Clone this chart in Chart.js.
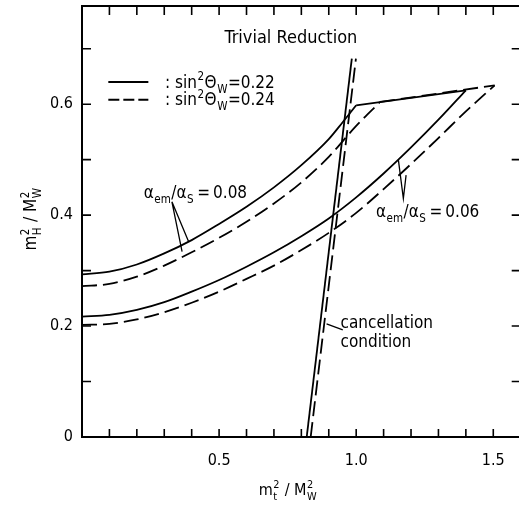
<!DOCTYPE html>
<html>
<head>
<meta charset="utf-8">
<script src="https://cdn.jsdelivr.net/npm/chart.js@4.4.1/dist/chart.umd.min.js"></script>
<style>
html, body { margin: 0; padding: 0; background: #fff; overflow: hidden; }
#wrap { width: 522px; height: 506px; }
</style>
</head>
<body>
<div id="wrap"><canvas id="chart" width="522" height="506"></canvas></div>
<script>
const FONT = '"DejaVu Sans Condensed", "DejaVu Sans", sans-serif';

// tick labels
const xTickLabels = [0.5, 1.0, 1.5];
const yTickLabels = [0, 0.2, 0.4, 0.6];

// alpha_em/alpha_s = 0.08, sin^2 = 0.22 (solid)
const xUpperSolid = [0, 0.1, 0.2, 0.3, 0.4, 0.5, 0.6, 0.7, 0.8, 0.9, 0.95, 1.0];
const yUpperSolid = [0.293, 0.298, 0.311, 0.331, 0.355, 0.384, 0.415, 0.450, 0.490, 0.537, 0.567, 0.598];
// alpha_em/alpha_s = 0.08, sin^2 = 0.24 (dashed)
const xUpperDashed = [0, 0.1, 0.2, 0.3, 0.4, 0.5, 0.6, 0.7, 0.8, 0.9, 1.0, 1.087];
const yUpperDashed = [0.272, 0.276, 0.289, 0.309, 0.333, 0.359, 0.388, 0.421, 0.459, 0.505, 0.561, 0.604];
// straight upper branch
const xBranchSolid = [1.0, 1.4];
const yBranchSolid = [0.598, 0.625];
const xBranchDashed = [1.087, 1.505];
const yBranchDashed = [0.604, 0.634];
// alpha_em/alpha_s = 0.06
const xLowerSolid = [0, 0.1, 0.2, 0.3, 0.4, 0.5, 0.6, 0.7, 0.8, 0.9, 1.0, 1.1, 1.2, 1.3, 1.4];
const yLowerSolid = [0.217, 0.220, 0.229, 0.243, 0.262, 0.283, 0.307, 0.333, 0.362, 0.394, 0.432, 0.475, 0.522, 0.572, 0.625];
const xLowerDashed = [0, 0.1, 0.2, 0.3, 0.4, 0.5, 0.6, 0.7, 0.8, 0.9, 1.0, 1.1, 1.2, 1.3, 1.4, 1.505];
const yLowerDashed = [0.202, 0.204, 0.212, 0.225, 0.242, 0.262, 0.285, 0.309, 0.337, 0.368, 0.404, 0.447, 0.492, 0.539, 0.587, 0.634];
// cancellation condition
const xCancelSolid = [0.8195, 0.984];
const xCancelDashed = [0.834, 0.999];
const yCancel = [0, 0.682];

function pts(xs, ys) {
    return xs.map(function (x, i) { return { x: x, y: ys[i] }; });
}

function line(xs, ys, dash, curved) {
    return {
        data: pts(xs, ys),
        borderColor: '#000',
        borderWidth: 1.8,
        borderDash: dash ? [15, 6] : [],
        pointRadius: 0,
        fill: false,
        cubicInterpolationMode: curved ? 'monotone' : 'default',
        tension: 0
    };
}

function near(v, list) {
    return list.some(function (l) { return Math.abs(v - l) < 1e-6; });
}

// text with stacked super/subscripts
function richText(ctx, x, y, parts, size, align) {
    const small = size * 0.68;
    const big = size + 'px ' + FONT;
    const sm = small + 'px ' + FONT;
    let w = 0;
    parts.forEach(function (p) {
        if (typeof p === 'string') { ctx.font = big; w += ctx.measureText(p).width; }
        else { ctx.font = sm; w += Math.max(ctx.measureText(p.sup || '').width, ctx.measureText(p.sub || '').width) + 1; }
    });
    let cx = align === 'center' ? x - w / 2 : x;
    ctx.textBaseline = 'alphabetic';
    ctx.textAlign = 'left';
    parts.forEach(function (p) {
        if (typeof p === 'string') {
            ctx.font = big; ctx.fillText(p, cx, y); cx += ctx.measureText(p).width;
        } else {
            ctx.font = sm;
            if (p.sup) ctx.fillText(p.sup, cx + 0.5, y - size * 0.42);
            if (p.sub) ctx.fillText(p.sub, cx + 0.5, y + size * 0.3);
            cx += Math.max(ctx.measureText(p.sup || '').width, ctx.measureText(p.sub || '').width) + 1;
        }
    });
}

const notes = {
    title: [0.762, 0.710],
    legend1: { seg: [0.096, 0.242, 0.640], text: [0.303, 0.630] },
    legend2: { seg: [0.096, 0.242, 0.608], text: [0.303, 0.599] },
    label08: [0.225, 0.431],
    arrow08: [[0.328, 0.424], [0.389, 0.352], [0.365, 0.334]],
    label06: [1.072, 0.396],
    arrow06: [[1.172, 0.430], [1.154, 0.499], [1.182, 0.472]],
    cancel: [0.943, 0.196, 0.163],
    arrowCancel: [[0.892, 0.204], [0.951, 0.193]]
};

const framePlugin = {
    id: 'frame',
    afterDraw: function (chart) {
        const ctx = chart.ctx, a = chart.chartArea, xs = chart.scales.x, ys = chart.scales.y;
        const px = function (v) { return xs.getPixelForValue(v); };
        const py = function (v) { return ys.getPixelForValue(v); };
        ctx.save();
        ctx.strokeStyle = '#000';
        ctx.fillStyle = '#000';
        ctx.lineWidth = 2;
        ctx.strokeRect(a.left, a.top, a.right - a.left, a.bottom - a.top);
        // inward ticks on all four sides
        ctx.lineWidth = 1.6;
        ctx.beginPath();
        xs.ticks.forEach(function (t) {
            const X = px(t.value);
            if (t.value <= 0) return;
            ctx.moveTo(X, a.bottom); ctx.lineTo(X, a.bottom - 8);
            ctx.moveTo(X, a.top); ctx.lineTo(X, a.top + 9);
        });
        ys.ticks.forEach(function (t) {
            const Y = py(t.value);
            if (t.value <= 0) return;
            ctx.moveTo(a.left, Y); ctx.lineTo(a.left + 9, Y);
            ctx.moveTo(a.right, Y); ctx.lineTo(a.right - 9, Y);
        });
        ctx.stroke();

        // axis titles
        richText(ctx, 288, 495, ['m', { sup: '2', sub: 't' }, ' / M', { sup: '2', sub: 'W' }], 16, 'center');
        ctx.save();
        ctx.translate(36, 219);
        ctx.rotate(-Math.PI / 2);
        richText(ctx, 0, 0, ['m', { sup: '2', sub: 'H' }, ' / M', { sup: '2', sub: 'W' }], 17, 'center');
        ctx.restore();

        // title + legend
        richText(ctx, px(notes.title[0]), py(notes.title[1]), ['Trivial Reduction'], 18, 'center');
        ctx.lineWidth = 1.8;
        [notes.legend1, notes.legend2].forEach(function (l, i) {
            ctx.setLineDash(i ? [11, 4] : []);
            ctx.beginPath();
            ctx.moveTo(px(l.seg[0]), py(l.seg[2]));
            ctx.lineTo(px(l.seg[1]), py(l.seg[2]));
            ctx.stroke();
            ctx.setLineDash([]);
            richText(ctx, px(l.text[0]), py(l.text[1]),
                [': sin', { sup: '2' }, '\u0398', { sub: 'W' }, '=0.' + (i ? '24' : '22')], 17, 'left');
        });

        // pointer lines
        ctx.lineWidth = 1.3;
        [notes.arrow08, notes.arrow06].forEach(function (ar) {
            ctx.beginPath();
            ctx.moveTo(px(ar[1][0]), py(ar[1][1]));
            ctx.lineTo(px(ar[0][0]), py(ar[0][1]));
            ctx.lineTo(px(ar[2][0]), py(ar[2][1]));
            ctx.stroke();
        });
        ctx.beginPath();
        ctx.moveTo(px(notes.arrowCancel[0][0]), py(notes.arrowCancel[0][1]));
        ctx.lineTo(px(notes.arrowCancel[1][0]), py(notes.arrowCancel[1][1]));
        ctx.stroke();

        richText(ctx, px(notes.label08[0]), py(notes.label08[1]),
            ['\u03b1', { sub: 'em' }, '/\u03b1', { sub: 'S' }, '\u2009=\u20090.08'], 17, 'left');
        richText(ctx, px(notes.label06[0]), py(notes.label06[1]),
            ['\u03b1', { sub: 'em' }, '/\u03b1', { sub: 'S' }, '\u2009=\u20090.06'], 17, 'left');
        richText(ctx, px(notes.cancel[0]), py(notes.cancel[1]), ['cancellation'], 17, 'left');
        richText(ctx, px(notes.cancel[0]), py(notes.cancel[2]), ['condition'], 17, 'left');
        ctx.restore();
    }
};

new Chart(document.getElementById('chart'), {
    type: 'line',
    data: {
        datasets: [
            line(xUpperSolid, yUpperSolid, false, true),
            line(xUpperDashed, yUpperDashed, true, true),
            line(xBranchSolid, yBranchSolid, false, false),
            line(xBranchDashed, yBranchDashed, true, false),
            line(xLowerSolid, yLowerSolid, false, true),
            line(xLowerDashed, yLowerDashed, true, true),
            line(xCancelSolid, yCancel, false, false),
            line(xCancelDashed, yCancel, true, false)
        ]
    },
    options: {
        responsive: false,
        animation: false,
        devicePixelRatio: 1,
        layout: { padding: { top: 6, right: 1.3, left: 0, bottom: 0 } },
        plugins: { legend: { display: false }, tooltip: { enabled: false } },
        scales: {
            x: {
                type: 'linear', min: 0, max: 1.6,
                grid: { display: false, drawTicks: false },
                border: { display: false },
                afterFit: function (s) { s.height = 69; s.paddingLeft = 0; s.paddingRight = 0; },
                ticks: {
                    stepSize: 0.1, includeBounds: false, autoSkip: false, maxRotation: 0,
                    padding: 14, color: '#000', font: { family: FONT, size: 16 },
                    callback: function (v) { return near(v, xTickLabels) ? v.toFixed(1) : ''; }
                }
            },
            y: {
                type: 'linear', min: 0, max: 0.777,
                grid: { display: false, drawTicks: false },
                border: { display: false },
                afterFit: function (s) { s.width = 82; s.paddingTop = 0; s.paddingBottom = 0; },
                ticks: {
                    stepSize: 0.1, includeBounds: false, autoSkip: false,
                    padding: 9, color: '#000', font: { family: FONT, size: 16 },
                    callback: function (v) { return near(v, yTickLabels) ? (v === 0 ? '0' : v.toFixed(1)) : ''; }
                }
            }
        }
    },
    plugins: [framePlugin]
});
</script>
</body>
</html>
